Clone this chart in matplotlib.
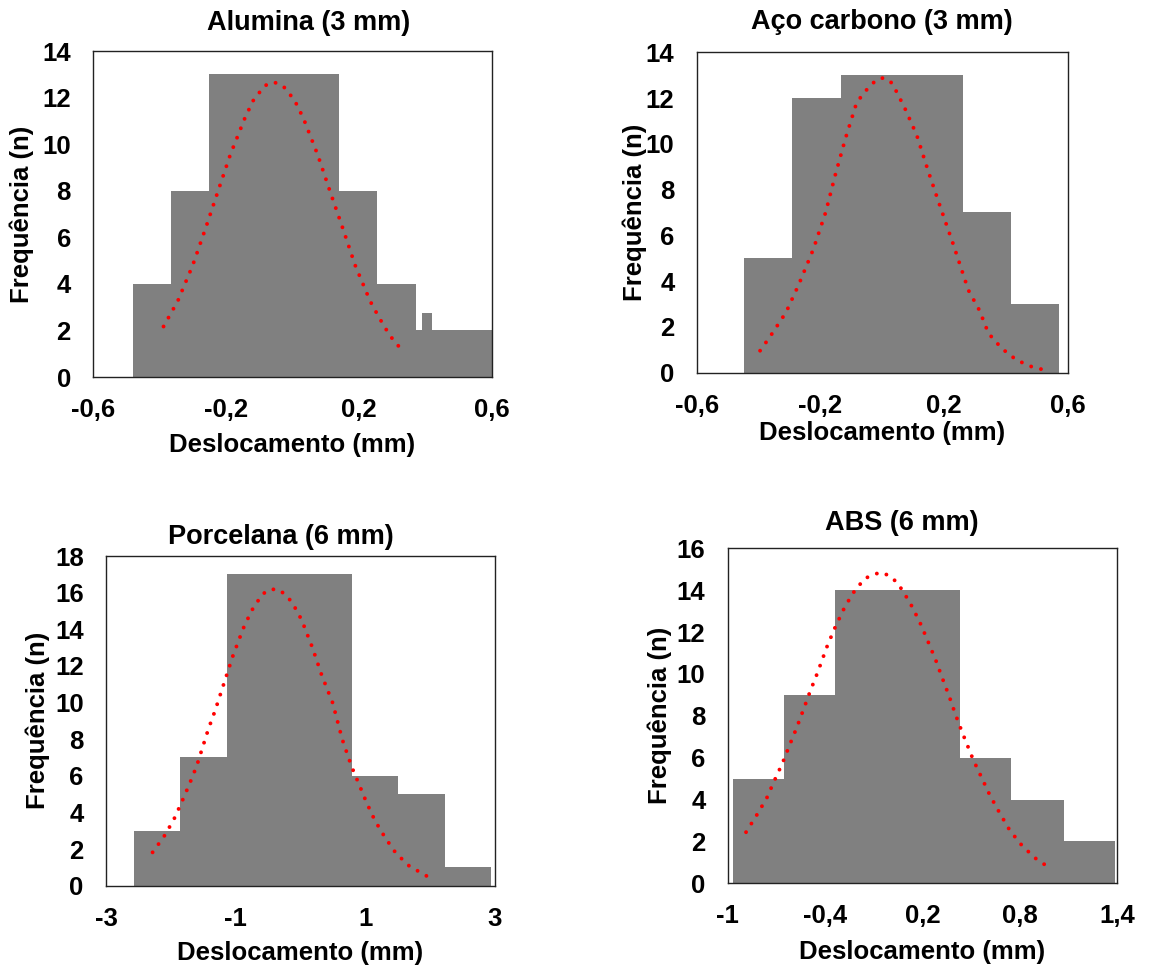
import matplotlib
matplotlib.use('Agg')
import matplotlib.pyplot as plt

plt.rcParams['font.family'] = ['Liberation Sans', 'DejaVu Sans']
plt.rcParams['font.weight'] = 'bold'
plt.rcParams['axes.labelweight'] = 'bold'
plt.rcParams['font.size'] = 18.5

# histogram bins (edges) and counts
edges_alumina = [-0.48, -0.365, -0.25, 0.14, 0.255, 0.37, 0.39, 0.42, 0.6]
counts_alumina = [4, 8, 13, 8, 4, 2, 2.75, 2]

edges_aco = [-0.447, -0.292, -0.134, 0.26, 0.415, 0.571]
counts_aco = [5, 12, 13, 7, 3]

edges_porcelana = [-2.568, -1.858, -1.137, 0.803, 1.503, 2.233, 2.938]
counts_porcelana = [3, 7, 17, 6, 5, 1]

edges_abs = [-0.965, -0.651, -0.339, 0.431, 0.743, 1.072, 1.386]
counts_abs = [5, 9, 14, 6, 4, 2]

# dotted normal curves
curve_x_alumina = [-0.388, -0.345, -0.300, -0.262, -0.224, -0.187, -0.144, -0.119, -0.084, -0.057, -0.029,
                   0.006, 0.033, 0.076, 0.113, 0.151, 0.188, 0.233, 0.260, 0.285, 0.309, 0.331]
curve_y_alumina = [2.17, 3.27, 4.81, 6.37, 7.99, 9.56, 11.10, 11.86, 12.51, 12.67, 12.51,
                   11.89, 11.10, 9.53, 7.96, 6.39, 4.81, 3.27, 2.56, 1.96, 1.46, 1.17]

curve_x_aco = [-0.395, -0.363, -0.311, -0.271, -0.223, -0.183, -0.152, -0.119, -0.083, -0.055, -0.020, 0.005,
               0.032, 0.073, 0.111, 0.149, 0.189, 0.230, 0.278, 0.314, 0.343, 0.386, 0.434, 0.488, 0.515]
curve_y_aco = [0.96, 1.57, 2.64, 3.82, 5.39, 7.01, 8.64, 10.24, 11.80, 12.30, 12.79, 12.89,
               12.65, 11.55, 10.39, 8.78, 7.18, 5.58, 3.61, 2.72, 1.72, 1.06, 0.55, 0.23, 0.15]

curve_x_porcelana = [-2.280, -2.105, -1.955, -1.827, -1.713, -1.600, -1.513, -1.420, -1.317, -1.178, -1.039,
                     -0.880, -0.751, -0.587, -0.468, -0.340, -0.221, -0.118, 0.021, 0.186, 0.330, 0.499,
                     0.648, 0.792, 0.911, 1.024, 1.153, 1.307, 1.477, 1.683, 1.950]
curve_y_porcelana = [1.82, 2.68, 3.59, 4.59, 5.53, 6.53, 7.50, 8.54, 9.54, 11.05, 12.56,
                     14.05, 15.02, 15.91, 16.18, 16.18, 15.87, 15.42, 14.51, 13.01, 11.50, 9.99,
                     7.99, 6.50, 5.50, 4.53, 3.55, 2.64, 1.77, 1.07, 0.53]

curve_x_abs = [-0.887, -0.821, -0.760, -0.713, -0.663, -0.620, -0.575, -0.534, -0.493, -0.448, -0.386, -0.339,
               -0.288, -0.232, -0.158, -0.109, -0.056, -0.004, 0.037, 0.078, 0.139, 0.191, 0.236, 0.283,
               0.324, 0.365, 0.404, 0.447, 0.513, 0.564, 0.616, 0.673, 0.733, 0.800, 0.889, 0.985]
curve_y_abs = [2.44, 3.26, 4.06, 4.89, 5.73, 6.57, 7.43, 8.28, 9.15, 10.03, 11.35, 12.21,
               13.05, 13.82, 14.54, 14.73, 14.85, 14.69, 14.41, 13.98, 13.17, 12.34, 11.51, 10.63,
               9.76, 8.92, 8.04, 7.16, 5.89, 5.05, 4.19, 3.39, 2.59, 1.91, 1.23, 0.72]

titles = ['Alumina (3 mm)', 'Aço carbono (3 mm)', 'Porcelana (6 mm)', 'ABS (6 mm)']

xticks_3mm = [-0.6, -0.2, 0.2, 0.6]
xticklabels_3mm = ['-0,6', '-0,2', '0,2', '0,6']
xticks_porcelana = [-3, -1, 1, 3]
xticklabels_porcelana = ['-3', '-1', '1', '3']
xticks_abs = [-1, -0.4, 0.2, 0.8, 1.4]
xticklabels_abs = ['-1', '-0,4', '0,2', '0,8', '1,4']

panels = [
    (edges_alumina, counts_alumina, curve_x_alumina, curve_y_alumina, xticks_3mm, xticklabels_3mm, 14),
    (edges_aco, counts_aco, curve_x_aco, curve_y_aco, xticks_3mm, xticklabels_3mm, 14),
    (edges_porcelana, counts_porcelana, curve_x_porcelana, curve_y_porcelana, xticks_porcelana, xticklabels_porcelana, 18),
    (edges_abs, counts_abs, curve_x_abs, curve_y_abs, xticks_abs, xticklabels_abs, 16),
]

# layout (figure fractions / axes fractions)
axes_rects = [[0.0800, 0.6101, 0.3431, 0.3371],
              [0.5990, 0.6146, 0.3193, 0.3313],
              [0.0911, 0.0841, 0.3342, 0.3409],
              [0.6257, 0.0866, 0.3350, 0.3464]]
title_pos = [(0.541, 1.086), (0.5, 1.095), (0.450, 1.0585), (0.447, 1.076)]
ylabel_x = [-0.178, -0.168, -0.176, -0.174]
xlabel_y = [-0.209, -0.188, -0.204, -0.205]

fig = plt.figure(figsize=(11.63, 9.67), dpi=100)

for i, (edges, counts, cx, cy, xt, xtl, ymax) in enumerate(panels):
    ax = fig.add_axes(axes_rects[i])
    ax.stairs(counts, edges, fill=True, color='#808080', linewidth=0)
    ax.plot(cx, cy, color='#ff0000', linewidth=2.8, linestyle=(0, (0.01, 2.6)),
            dash_capstyle='round', solid_capstyle='round')
    ax.set_xlim(xt[0], xt[-1])
    ax.set_ylim(0, ymax)
    ax.set_xticks(xt)
    ax.set_xticklabels(xtl)
    ax.set_yticks(range(0, ymax + 1, 2))
    ax.tick_params(length=0)
    ax.tick_params(axis='y', pad=16)
    ax.tick_params(axis='x', pad=15)
    for s in ax.spines.values():
        s.set_linewidth(1.0)
        s.set_color('#222222')
    ax.set_xlabel('Deslocamento (mm)')
    ax.set_ylabel('Frequência (n)')
    ax.xaxis.set_label_coords(0.5, xlabel_y[i])
    ax.yaxis.set_label_coords(ylabel_x[i], 0.5)
    ax.xaxis.label.set_verticalalignment('center')
    ax.yaxis.label.set_verticalalignment('center')
    ax.text(title_pos[i][0], title_pos[i][1], titles[i], transform=ax.transAxes,
            ha='center', va='center', fontsize=19.5)

plt.savefig('out.png', dpi=100)
